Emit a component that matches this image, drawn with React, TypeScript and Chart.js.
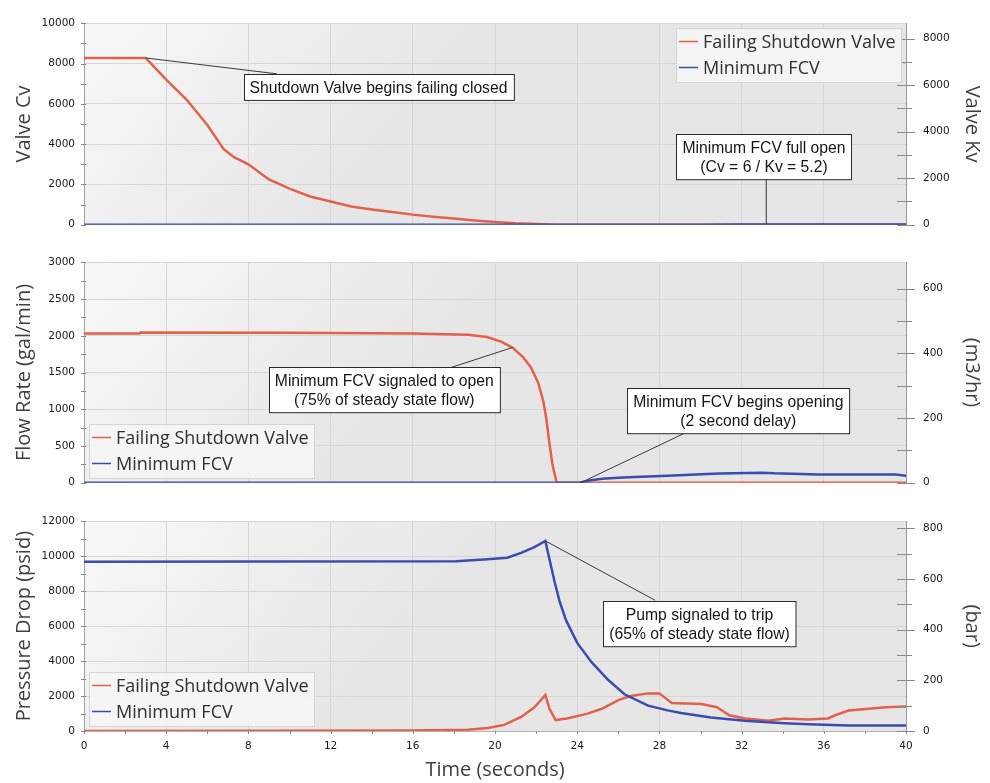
import React, { useEffect, useRef } from 'react';
import { Chart, registerables } from 'chart.js';

Chart.register(...registerables);

// ---------- data ----------
const SERIES_NAMES = ['Failing Shutdown Valve', 'Minimum FCV'];
const TIME_MIN = 0;
const TIME_MAX = 40;

// Panel 1: valve Cv
const cvFailTime = [0, 3, 4, 5, 6, 6.8, 7.3, 8, 9, 10, 11, 12, 13, 14, 15, 16, 17, 18, 19, 20, 21, 22, 22.7, 23, 40];
const cvFailValue = [8280, 8280, 7200, 6200, 4950, 3750, 3350, 3000, 2250, 1790, 1400, 1150, 900, 760, 625, 500, 400, 305, 210, 135, 75, 40, 12, 0, 0];
const cvFcvTime = [0, 24, 26, 28, 30, 32, 33.2, 40];
const cvFcvValue = [0, 0, 1, 2, 3.5, 5, 6, 6];

// Panel 2: flow rate (gal/min)
const flowFailTime = [0, 2.7, 2.75, 10, 16, 18.7, 19.6, 20.3, 20.85, 21.35, 21.75, 22.1, 22.35, 22.5, 22.65, 22.8, 23.0, 40];
const flowFailValue = [2030, 2030, 2043, 2042, 2030, 2013, 1983, 1921, 1840, 1714, 1568, 1361, 1112, 863, 531, 240, 0, 0];
const flowFcvTime = [0, 24.1, 24.6, 25.2, 26.0, 26.8, 28.4, 30.9, 33.0, 33.6, 35.7, 39.5, 40];
const flowFcvValue = [0, 0, 30, 55, 68, 78, 95, 124, 137, 128, 112, 112, 96];

// Panel 3: pressure drop (psid)
const dpFailTime = [0, 15.9, 18.67, 19.64, 20.45, 21.27, 21.92, 22.45, 22.65, 22.95, 23.5, 24.5, 25.2, 26.0, 26.6, 27.45, 28.0, 28.6, 30.05, 30.8, 31.4, 32.16, 33.3, 34.1, 35.25, 36.2, 36.55, 37.2, 38.2, 39.0, 40];
const dpFailValue = [0, 30, 72, 166, 348, 806, 1358, 2060, 1270, 624, 718, 994, 1270, 1767, 2004, 2153, 2153, 1601, 1546, 1358, 900, 718, 585, 718, 663, 718, 900, 1176, 1270, 1358, 1397];
const dpFcvTime = [0, 18.1, 19.64, 20.6, 21.27, 21.92, 22.45, 22.65, 22.9, 23.14, 23.46, 24.0, 24.7, 25.5, 26.3, 27.45, 28.4, 29.05, 30.5, 32.16, 33.3, 34.1, 35.25, 37.2, 40];
const dpFcvValue = [9680, 9718, 9829, 9917, 10193, 10524, 10877, 9829, 8537, 7433, 6328, 5040, 3940, 2930, 2100, 1450, 1180, 1030, 773, 585, 497, 442, 387, 309, 309];

// axis ranges / unit conversions / secondary ticks
const CV_MAX = 10000;
const CV_TO_KV = 0.866;
const GPM_MAX = 3000;
const GPM_TO_M3H = 0.22712;
const PSI_MAX = 12000;
const PSI_TO_BAR = 0.0689476;
const KV_TICKS = [0, 1000, 2000, 3000, 4000, 5000, 6000, 7000, 8000];
const M3H_TICKS = [0, 100, 200, 300, 400, 500, 600];
const BAR_TICKS = [0, 100, 200, 300, 400, 500, 600, 700, 800];

const NOTE_1 = ['Shutdown Valve begins failing closed'];
const NOTE_2 = ['Minimum FCV full open', '(Cv = 6 / Kv = 5.2)'];
const NOTE_3 = ['Minimum FCV signaled to open', '(75% of steady state flow)'];
const NOTE_4 = ['Minimum FCV begins opening', '(2 second delay)'];
const NOTE_5 = ['Pump signaled to trip', '(65% of steady state flow)'];

// ---------- styles ----------
const ORANGE = '#e3604a';
const BLUE = '#3b4cae';
const GRID = '#d6d6d6';
const FONT_TICK = '"DejaVu Sans", Verdana, sans-serif';
const FONT_TITLE = '"Open Sans", "Noto Sans", sans-serif';
const FONT_NOTE = '"Liberation Sans", Arial, sans-serif';

type Note = { lines: string[]; cx: number; cy: number; from: [number, number]; to: [number, number] };
type Panel = {
  top: number; height: number; xHeight: number; showX: boolean;
  yMax: number; yStep: number; yLabelStep: number; yTitle: string;
  y2Max: number; y2Ticks: number[]; y2LabelStep: number; y2Title: string;
  a: { x: number; y: number }[]; b: { x: number; y: number }[];
  legend: 'tr' | 'bl'; notes: Note[];
};

const pts = (t: number[], v: number[]) => t.map((x, i) => ({ x, y: v[i] }));
const isMult = (v: number, s: number) => Math.abs(v / s - Math.round(v / s)) < 1e-6;

const PANELS: Panel[] = [
  {
    top: 0, height: 248, xHeight: 10, showX: false,
    yMax: CV_MAX, yStep: 1000, yLabelStep: 2000, yTitle: 'Valve Cv',
    y2Max: CV_MAX * CV_TO_KV, y2Ticks: KV_TICKS, y2LabelStep: 2000, y2Title: 'Valve Kv',
    a: pts(cvFailTime, cvFailValue), b: pts(cvFcvTime, cvFcvValue),
    legend: 'tr',
    notes: [
      { lines: NOTE_1, cx: 14.33, cy: 6847, from: [3, 8280], to: [9.38, 7491] },
      { lines: NOTE_2, cx: 33.09, cy: 3392, from: [33.2, 0], to: [33.2, 2356] },
    ],
  },
  {
    top: 239, height: 267, xHeight: 10, showX: false,
    yMax: GPM_MAX, yStep: 250, yLabelStep: 500, yTitle: 'Flow Rate (gal/min)',
    y2Max: GPM_MAX * GPM_TO_M3H, y2Ticks: M3H_TICKS, y2LabelStep: 200, y2Title: '(m3/hr)',
    a: pts(flowFailTime, flowFailValue), b: pts(flowFcvTime, flowFcvValue),
    legend: 'bl',
    notes: [
      { lines: NOTE_3, cx: 14.61, cy: 1267, from: [20.85, 1840], to: [17.73, 1556] },
      { lines: NOTE_4, cx: 31.84, cy: 981, from: [24.17, 0], to: [29.4, 697] },
    ],
  },
  {
    top: 498, height: 285, xHeight: 52, showX: true,
    yMax: PSI_MAX, yStep: 1000, yLabelStep: 2000, yTitle: 'Pressure Drop (psid)',
    y2Max: PSI_MAX * PSI_TO_BAR, y2Ticks: BAR_TICKS, y2LabelStep: 200, y2Title: '(bar)',
    a: pts(dpFailTime, dpFailValue), b: pts(dpFcvTime, dpFcvValue),
    legend: 'bl',
    notes: [
      { lines: NOTE_5, cx: 29.95, cy: 6166, from: [22.45, 10877], to: [27.79, 7482] },
    ],
  },
];

function decor(p: Panel) {
  return {
    id: 'decor',
    beforeDraw(chart: any) {
      const { ctx, chartArea: a } = chart;
      const g = ctx.createLinearGradient(a.left, a.top, a.left + (a.right - a.left) * 0.3, a.bottom);
      g.addColorStop(0, '#f8f8f9');
      g.addColorStop(1, '#e6e6e7');
      ctx.save();
      ctx.fillStyle = g;
      ctx.fillRect(a.left, a.top, a.right - a.left, a.bottom - a.top);
      ctx.restore();
    },
    afterDraw(chart: any) {
      const { ctx, chartArea: a } = chart;
      const xs = chart.scales.x, ys = chart.scales.y, y2 = chart.scales.y2;
      ctx.save();
      // crossing tick marks
      ctx.strokeStyle = '#8a8a8a';
      ctx.lineWidth = 1;
      ctx.beginPath();
      for (const t of ys.ticks) {
        const q = Math.round(ys.getPixelForValue(t.value)) + 0.5;
        ctx.moveTo(a.left - 3, q); ctx.lineTo(a.left + 2, q);
      }
      for (const t of y2.ticks) {
        const q = Math.round(y2.getPixelForValue(t.value)) + 0.5;
        const major = isMult(t.value, p.y2LabelStep);
        ctx.moveTo(a.right - 9, q); ctx.lineTo(a.right + (major ? 9 : 6), q);
      }
      if (p.showX) {
        for (const t of xs.ticks) {
          const q = Math.round(xs.getPixelForValue(t.value)) + 0.5;
          ctx.moveTo(q, a.bottom); ctx.lineTo(q, a.bottom + 3);
        }
      }
      ctx.stroke();

      // annotations
      ctx.font = '15.7px ' + FONT_NOTE;
      for (const n of p.notes) {
        const fx = xs.getPixelForValue(n.from[0]), fy = ys.getPixelForValue(n.from[1]);
        const tx = xs.getPixelForValue(n.to[0]), ty = ys.getPixelForValue(n.to[1]);
        ctx.strokeStyle = '#3a3a3a';
        ctx.lineWidth = 1;
        ctx.beginPath(); ctx.moveTo(fx, fy); ctx.lineTo(tx, ty); ctx.stroke();
        const w = Math.max(...n.lines.map((l) => ctx.measureText(l).width)) + 12;
        const h = n.lines.length * 19.3 + 6.6;
        const cx = xs.getPixelForValue(n.cx), cy = ys.getPixelForValue(n.cy);
        const bx = Math.round(cx - w / 2) + 0.5, by = Math.round(cy - h / 2) + 0.5;
        ctx.fillStyle = '#ffffff';
        ctx.fillRect(bx, by, w, h);
        ctx.strokeStyle = '#2a2a2a';
        ctx.strokeRect(bx, by, w, h);
        ctx.fillStyle = '#151515';
        ctx.textAlign = 'center';
        ctx.textBaseline = 'middle';
        n.lines.forEach((l, i) => ctx.fillText(l, cx, by + 3.3 + 19.3 * (i + 0.5) + 1));
      }

      // legend
      const lw = 225, lh = 54;
      const L = p.legend === 'tr' ? a.right - 5 - lw : a.left + 5;
      const T = p.legend === 'tr' ? a.top + 5 : a.bottom - 5 - lh;
      ctx.fillStyle = 'rgba(245,245,246,0.92)';
      ctx.fillRect(Math.round(L) + 0.5, Math.round(T) + 0.5, lw, lh);
      ctx.strokeStyle = '#d4d4d4';
      ctx.strokeRect(Math.round(L) + 0.5, Math.round(T) + 0.5, lw, lh);
      ctx.font = '18px ' + FONT_TITLE;
      ctx.textAlign = 'left';
      ctx.textBaseline = 'alphabetic';
      [ORANGE, BLUE].forEach((c, i) => {
        const base = Math.round(T) + 20 + i * 26;
        ctx.strokeStyle = c;
        ctx.lineWidth = 1.5;
        ctx.beginPath(); ctx.moveTo(L + 3, base - 6.5); ctx.lineTo(L + 22, base - 6.5); ctx.stroke();
        ctx.fillStyle = '#303030';
        ctx.fillText(SERIES_NAMES[i], L + 27, base);
      });
      ctx.restore();
    },
  };
}

function makeConfig(p: Panel): any {
  const tickFont = { family: FONT_TICK, size: 10.5 };
  const titleFont = { family: FONT_TITLE, size: 20 };
  return {
    type: 'line',
    data: {
      datasets: [
        { label: SERIES_NAMES[0], data: p.a, borderColor: ORANGE, backgroundColor: ORANGE, borderWidth: 2.5, pointRadius: 0, tension: 0, fill: false, order: 1 },
        { label: SERIES_NAMES[1], data: p.b, borderColor: BLUE, backgroundColor: BLUE, borderWidth: 2.5, pointRadius: 0, tension: 0, fill: false, order: 0 },
      ],
    },
    options: {
      animation: false,
      responsive: false,
      events: [],
      layout: { padding: { top: 16, left: 0, right: 0, bottom: 0 } },
      plugins: { legend: { display: false }, tooltip: { enabled: false } },
      scales: {
        x: {
          type: 'linear', min: TIME_MIN, max: TIME_MAX,
          afterFit: (s: any) => { s.height = p.xHeight; },
          ticks: {
            display: p.showX, stepSize: 2, autoSkip: false, maxRotation: 0, padding: 9,
            font: tickFont, color: '#1a1a1a',
            callback: (v: number) => (isMult(v, 4) ? String(v) : ''),
          },
          grid: { color: (c: any) => (c.tick && isMult(c.tick.value, 4) ? GRID : 'rgba(0,0,0,0)'), drawTicks: false },
          border: { color: '#b4b4b4' },
          title: { display: p.showX, text: 'Time (seconds)', font: titleFont, color: '#404040', padding: { top: 0, bottom: 1 } },
        },
        y: {
          position: 'left', min: 0, max: p.yMax,
          afterFit: (s: any) => { s.width = 84; },
          ticks: {
            stepSize: p.yStep, autoSkip: false, padding: 9, font: tickFont, color: '#1a1a1a',
            callback: (v: number) => (isMult(v, p.yLabelStep) ? String(v) : ''),
          },
          grid: { color: (c: any) => (c.tick && isMult(c.tick.value, p.yLabelStep) ? GRID : 'rgba(0,0,0,0)'), drawTicks: false },
          border: { color: '#a0a0a0' },
          title: { display: true, text: p.yTitle, font: titleFont, color: '#404040', padding: { top: 12, bottom: 0 } },
        },
        y2: {
          position: 'right', min: 0, max: p.y2Max,
          afterFit: (s: any) => { s.width = 84; },
          afterBuildTicks: (s: any) => { s.ticks = p.y2Ticks.map((v) => ({ value: v })); },
          ticks: {
            autoSkip: false, padding: 17, font: tickFont, color: '#1a1a1a',
            callback: (v: number) => (isMult(v, p.y2LabelStep) ? String(v) : ''),
          },
          grid: { drawOnChartArea: false, drawTicks: false },
          border: { color: '#999999' },
          title: { display: true, text: p.y2Title, font: titleFont, color: '#404040', padding: { top: 6, bottom: 0 } },
        },
      },
    },
    plugins: [decor(p)],
  };
}

function PanelChart({ p }: { p: Panel }) {
  const ref = useRef<HTMLCanvasElement | null>(null);
  useEffect(() => {
    if (!ref.current) return;
    const chart = new Chart(ref.current, makeConfig(p));
    return () => chart.destroy();
  }, [p]);
  return (
    <canvas
      ref={ref}
      width={990}
      height={p.height}
      style={{ position: 'absolute', left: 0, top: p.top, width: 990, height: p.height, display: 'block' }}
    />
  );
}

export default function App() {
  return (
    <div style={{ position: 'absolute', left: 0, top: 0, width: 990, height: 783, background: '#ffffff', overflow: 'hidden' }}>
      {PANELS.map((p, i) => (
        <PanelChart key={i} p={p} />
      ))}
    </div>
  );
}
